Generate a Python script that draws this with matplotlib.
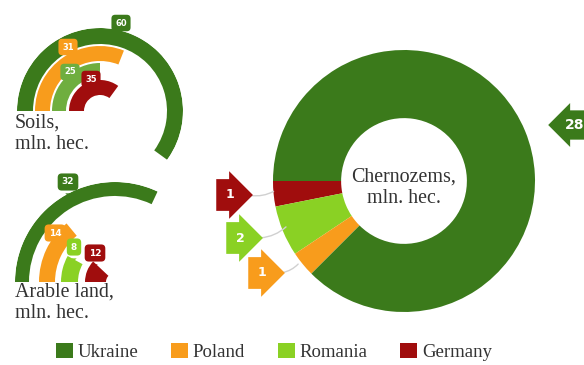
import numpy as np
import matplotlib.pyplot as plt
from matplotlib.patches import Patch
from matplotlib.font_manager import FontProperties

countries = ["Ukraine", "Poland", "Romania", "Germany"]
colors = ["#3b7a1b", "#f89c1c", "#8ad124", "#a00d0d"]
soils_color_romania = "#6fae3f"

soils = [60, 31, 25, 35]
arable = [32, 14, 8, 12]
chernozems = [28, 1, 2, 1]

W, H = 584, 365
fig = plt.figure(figsize=(W / 100, H / 100), dpi=100)
serif = "Liberation Serif"


def px_axes(cx, cy, r, **kw):
    # axes box (in pixels, y from the top) centred on cx, cy
    return fig.add_axes([(cx - r) / W, (H - cy - r) / H, 2 * r / W, 2 * r / H], **kw)


def radial(cx, cy, rmax, vals, rings, cols):
    ax = px_axes(cx, cy, rmax, projection="polar")
    ax.set_theta_zero_location("W")
    ax.set_theta_direction(-1)
    for v, (r0, r1), c in zip(vals, rings, cols):
        ax.barh((r0 + r1) / 2, np.deg2rad(v * 3.6), left=0, height=r1 - r0,
                color=c, edgecolor="none")
    ax.set_ylim(0, rmax)
    ax.set_axis_off()
    return ax


soil_cols = [colors[0], colors[1], soils_color_romania, colors[3]]
radial(100, 111, 83, soils, [(67, 83), (50, 65), (34, 48), (16, 31)], soil_cols)
radial(115, 282, 100, arable, [(86, 100), (60, 76), (37, 54), (9, 30)], colors)

# donut
axd = px_axes(404, 181, 131)
order = [3, 2, 1, 0]
axd.pie([chernozems[i] for i in order], colors=[colors[i] for i in order],
        startangle=180, counterclock=True, radius=1,
        wedgeprops=dict(width=0.52, edgecolor="none"))
axd.set_xlim(-1, 1)
axd.set_ylim(-1, 1)
axd.set_axis_off()

# overlay for text and tags, pixel coordinates
ax = fig.add_axes([0, 0, 1, 1])
ax.set_xlim(0, W)
ax.set_ylim(H, 0)
ax.set_axis_off()
ax.patch.set_alpha(0)

ax.text(15, 114, "Soils,\nmln. hec.", fontsize=14.4, family=serif, color="#333333",
        va="top", linespacing=1.15)
ax.text(15, 283, "Arable land,\nmln. hec.", fontsize=14.4, family=serif, color="#333333",
        va="top", linespacing=1.15)
ax.text(404, 188, "Chernozems,\nmln. hec.", fontsize=14.4, family=serif, color="#333333",
        ha="center", va="center", linespacing=1.2)


def tag_down(x, y, label, c, size=6):
    ax.annotate(label, xy=(x, y + 14), xytext=(x, y), ha="center", va="center",
                fontsize=size, color="white", fontweight="bold",
                bbox=dict(boxstyle="round,pad=0.45", fc=c, ec="none"),
                arrowprops=dict(arrowstyle="wedge,tail_width=0.6", fc=c, ec="none"))


soil_tags = [(121, 23), (68, 47), (70, 72), (91, 79)]
for (x, y), v, c in zip(soil_tags, soils, soil_cols):
    tag_down(x, y, str(v), c)
arable_tags = [(68, 182), (55, 233), (74, 247), (95, 253)]
for (x, y), v, c in zip(arable_tags, arable, colors):
    tag_down(x, y, str(v), c, size=6.5)

# donut callouts
donut_tags = {3: ((230, 195), (276, 190)), 2: ((240, 238), (288, 225)), 1: ((262, 273), (300, 262))}
for i, ((x, y), (tx, ty)) in donut_tags.items():
    ax.annotate("", xy=(tx, ty), xytext=(x + 18, y),
                arrowprops=dict(arrowstyle="-", color="#d0d0d0", lw=1,
                                connectionstyle="arc3,rad=0.2"))
    ax.text(x, y, str(chernozems[i]), ha="center", va="center", fontsize=9,
            color="white", fontweight="bold",
            bbox=dict(boxstyle="rarrow,pad=0.75", fc=colors[i], ec="none"))

ax.text(565, 125, str(chernozems[0]), ha="left", va="center", fontsize=10,
        color="white", fontweight="bold",
        bbox=dict(boxstyle="larrow,pad=0.55", fc=colors[0], ec="none"))

handles = [Patch(fc=c, ec="none") for c in colors]
fig.legend(handles, countries, loc="center", bbox_to_anchor=(274 / W, (H - 352) / H),
           ncol=4, frameon=False, handlelength=0.9, handleheight=0.9,
           handletextpad=0.25, columnspacing=1.75,
           prop=FontProperties(family=serif, size=13.5))
for t in fig.legends[0].get_texts():
    t.set_color("#333333")

fig.savefig("out.png", dpi=100)
